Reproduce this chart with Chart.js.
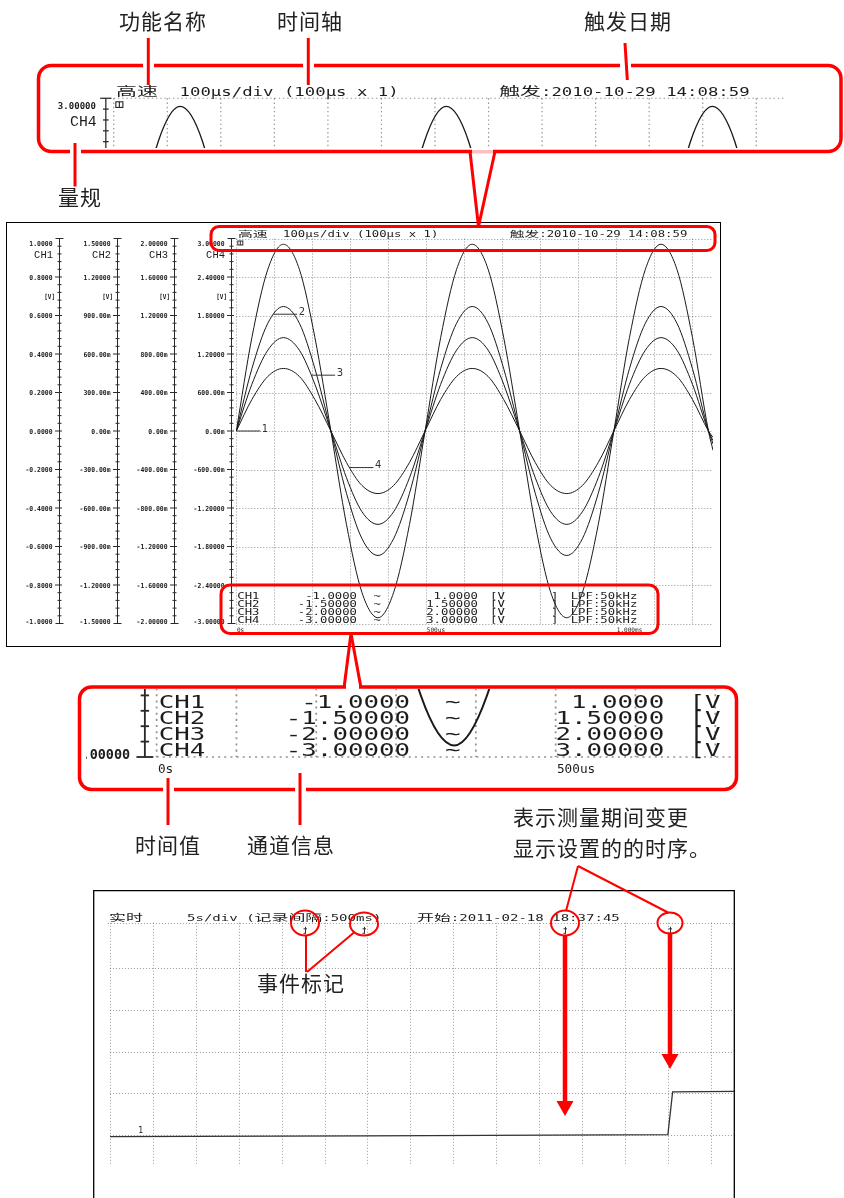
<!DOCTYPE html>
<html>
<head>
<meta charset="utf-8">
<script src="https://cdn.jsdelivr.net/npm/chart.js@4.4.1/dist/chart.umd.min.js"></script>
<style>
  html, body { margin: 0; padding: 0; background: #fff; }
  body { width: 844px; height: 1198px; position: relative; overflow: hidden; }
  canvas { display: block; }
  .abs { position: absolute; }
  .clip { position: absolute; overflow: hidden; }
  .note { position: absolute; font-family: "Noto Sans CJK SC", sans-serif; font-size: 21px; letter-spacing: 1px;
          line-height: 21px; color: #222; white-space: nowrap; }
</style>
</head>
<body>
<div class="abs" style="left:6px;top:222px;"><canvas id="scopeMain"></canvas></div>
<div class="clip" style="left:40px;top:67px;width:800px;height:81px;border-radius:11px;">
  <canvas id="scopeHead" class="abs"></canvas>
</div>
<div class="clip" style="left:86px;top:689px;width:649px;height:99px;border-radius:8px;">
  <canvas id="scopeFoot" class="abs"></canvas>
</div>
<div class="abs" style="left:93px;top:890px;"><canvas id="recorder"></canvas></div>
<canvas id="marks" class="abs" width="844" height="1198" style="left:0;top:0;pointer-events:none;"></canvas>

<div class="note" style="left:119px;top:10px;">功能名称</div>
<div class="note" style="left:277px;top:10px;">时间轴</div>
<div class="note" style="left:584px;top:10px;">触发日期</div>
<div class="note" style="left:58px;top:186px;">量规</div>
<div class="note" style="left:135px;top:834px;">时间值</div>
<div class="note" style="left:247px;top:834px;">通道信息</div>
<div class="note" style="left:513px;top:806px;">表示测量期间变更</div>
<div class="note" style="left:513px;top:837px;">显示设置的的时序。</div>
<div class="note" style="left:257px;top:972px;">事件标记</div>

<script>
// ---------- waveform screen (high-speed function) ----------
const timeUs = [0, 41, 83, 124, 166, 207, 249, 290, 331, 373, 414, 456, 497, 538, 580, 621,
                663, 704, 746, 787, 828, 870, 911, 953, 994, 1035, 1077, 1118, 1160, 1201, 1243, 1255];
const ch1V = [0, 0.485, 0.84, 0.97, 0.84, 0.485, 0, -0.485, -0.84, -0.97, -0.84, -0.485, 0, 0.485, 0.84, 0.97,
              0.84, 0.485, 0, -0.485, -0.84, -0.97, -0.84, -0.485, 0, 0.485, 0.84, 0.97, 0.84, 0.485, 0, -0.1];
const ch2V = [0, 0.485, 0.84, 0.97, 0.84, 0.485, 0, -0.485, -0.84, -0.97, -0.84, -0.485, 0, 0.485, 0.84, 0.97,
              0.84, 0.485, 0, -0.485, -0.84, -0.97, -0.84, -0.485, 0, 0.485, 0.84, 0.97, 0.84, 0.485, 0, -0.1];
const ch3V = [0, 0.485, 0.84, 0.97, 0.84, 0.485, 0, -0.485, -0.84, -0.97, -0.84, -0.485, 0, 0.485, 0.84, 0.97,
              0.84, 0.485, 0, -0.485, -0.84, -0.97, -0.84, -0.485, 0, 0.485, 0.84, 0.97, 0.84, 0.485, 0, -0.1];
const ch4V = [0, 0.49, 0.85, 0.975, 0.85, 0.49, 0, -0.49, -0.85, -0.975, -0.85, -0.49, 0, 0.49, 0.85, 0.975,
              0.85, 0.49, 0, -0.49, -0.85, -0.975, -0.85, -0.49, 0, 0.49, 0.85, 0.975, 0.85, 0.49, 0, -0.1];

const chNames = ['CH1', 'CH2', 'CH3', 'CH4'];
const chLow = [-1.0, -1.5, -2.0, -3.0];
const chHigh = [1.0, 1.5, 2.0, 3.0];
const chLowText = ['-1.0000', '-1.50000', '-2.00000', '-3.00000'];
const chHighText = ['1.0000', '1.50000', '2.00000', '3.00000'];
const chFilter = ['LPF:50kHz', 'LPF:50kHz', 'LPF:50kHz', 'LPF:50kHz'];
const ch1Ticks = ['1.0000', '0.8000', '0.6000', '0.4000', '0.2000', '0.0000', '-0.2000', '-0.4000', '-0.6000', '-0.8000', '-1.0000'];
const ch2Ticks = ['1.50000', '1.20000', '900.00m', '600.00m', '300.00m', '0.00m', '-300.00m', '-600.00m', '-900.00m', '-1.20000', '-1.50000'];
const ch3Ticks = ['2.00000', '1.60000', '1.20000', '800.00m', '400.00m', '0.00m', '-400.00m', '-800.00m', '-1.20000', '-1.60000', '-2.00000'];
const ch4Ticks = ['3.00000', '2.40000', '1.80000', '1.20000', '600.00m', '0.00m', '-600.00m', '-1.20000', '-1.80000', '-2.40000', '-3.00000'];
const timeTickUs = [0, 500, 1000];
const timeTickText = ['0s', '500us', '1.000ms'];
const tagText = ['1', '2', '3', '4'];
const tagTimeUs = [0, 97, 197, 298];
const tagValue = [0, 0.91, 0.58, -0.57];
const scopeMode = '高速';
const scopeTimebase = '100μs/div (100μs x 1)';
const scopeTrigger = '触发:2010-10-29 14:08:59';
const divUs = 100, spanUs = 1255, vDivs = 10;

// ---------- recorder screen (real-time function) ----------
const recTimeS = [0, 30, 65.0, 65.55, 72.7];
const recLevel = [-0.05, -0.03, 0.0, 1.03, 1.04];
const eventTimeS = [22.7, 29.6, 53.0, 65.3];
const recMode = '实时';
const recTimebase = '5s/div (记录间隔:500ms)';
const recStart = '开始:2011-02-18 18:37:45';
const recDivS = 5, recSpanS = 72.7, recLow = -0.755, recHigh = 5.1, recLines = [0, 1, 2, 3, 4];
const recTagText = '1', recTagTimeS = 3.6, recTagLevel = 0.05;

// ---------- drawing helpers ----------
const MONO = '"DejaVu Sans Mono", "Noto Sans CJK SC", monospace';
function isWide(c) { return /[\u2E80-\u9FFF\uF900-\uFAFF\uFF00-\uFF60]/.test(c); }
// fixed-cell text: every half-width glyph is stretched into one cell, CJK into two
function cellText(ctx, str, x, y, cell, px, align, family, weight) {
  const chars = Array.from(str);
  const units = chars.map(c => isWide(c) ? 2 : 1);
  const total = units.reduce((a, b) => a + b, 0) * cell;
  let cx = align === 'right' ? x - total : (align === 'center' ? x - total / 2 : x);
  ctx.font = (weight ? weight + ' ' : '') + px + 'px ' + (family || MONO);
  ctx.textAlign = 'center';
  ctx.textBaseline = 'middle';
  chars.forEach((c, i) => {
    const w = units[i] * cell;
    if (c !== ' ') {
      const mw = ctx.measureText(c).width || 1;
      ctx.save();
      ctx.translate(cx + w / 2, y);
      ctx.scale(w / mw, 1);
      ctx.fillText(c, 0, 0);
      ctx.restore();
    }
    cx += w;
  });
}
function seg(ctx, x1, y1, x2, y2) { ctx.beginPath(); ctx.moveTo(x1, y1); ctx.lineTo(x2, y2); ctx.stroke(); }

// panel geometry of the waveform screen at 1:1
const SCOPE_W = 715, SCOPE_H = 425;
const PAD = { left: 230.3, right: 8, top: 16.5, bottom: 23.5 };
const AXIS_X = [53, 111.3, 168, 224.7];
const tickSets = [ch1Ticks, ch2Ticks, ch3Ticks, ch4Ticks];

function scopeFace(mx, my, framed) {
  const s = (mx + my) / 2;
  return {
    id: 'scopeFace',
    beforeDatasetsDraw(chart) {
      const { ctx, chartArea: a, scales } = chart;
      ctx.save();
      ctx.strokeStyle = 'rgba(60,60,60,0.55)';
      ctx.lineWidth = Math.max(1, 0.85 * s);
      ctx.setLineDash([1 * s, 2 * s]);
      for (let t = 0; t <= spanUs; t += divUs) {
        let x = scales.x.getPixelForValue(t);
        if (mx === 1) x = Math.round(x) + 0.5;
        seg(ctx, x, a.top, x, a.bottom);
      }
      const y4 = scales.y4, step = (chHigh[3] - chLow[3]) / vDivs;
      for (let k = 0; k <= vDivs; k++) {
        let y = y4.getPixelForValue(chLow[3] + k * step);
        if (my === 1) y = Math.round(y) + 0.5;
        seg(ctx, a.left, y, a.right, y);
      }
      ctx.restore();
    },
    afterDatasetsDraw(chart) {
      const { ctx, chartArea: a, scales } = chart;
      ctx.save();
      ctx.fillStyle = '#1c1c1c';
      ctx.strokeStyle = '#2a2a2a';
      ctx.lineWidth = Math.max(1, 0.9 * s);
      // amplitude scales on the left
      chNames.forEach((name, i) => {
        const ys = scales['y' + (i + 1)];
        const ax = (mx === 1) ? Math.round(AXIS_X[i]) + 0.5 : AXIS_X[i] * mx;
        const top = ys.getPixelForValue(chHigh[i]), bot = ys.getPixelForValue(chLow[i]);
        const span = chHigh[i] - chLow[i];
        seg(ctx, ax, top, ax, bot);
        for (let k = 0; k <= vDivs * 5; k++) {
          const y = ys.getPixelForValue(chHigh[i] - k * span / (vDivs * 5));
          const major = k % 5 === 0;
          const edge = k === 0 || k === vDivs * 5;
          const l = (edge ? 4 : major ? 4.5 : 2) * mx, r = (edge ? 4 : major ? 2.5 : 2) * mx;
          seg(ctx, ax - l, y, ax + r, y);
        }
        const labels = tickSets[i];
        const yk = k => ys.getPixelForValue(chHigh[i] - k * span / vDivs);
        labels.forEach((txt, k) => {
          let y = yk(k) + 1 * my;
          if (k === 0) y = Math.max(y, top + 5.5 * my);
          if (k === vDivs) y = Math.min(y, bot - 0.8 * my);
          cellText(ctx, txt, ax - 7 * mx, y, 3.86 * mx, 6.8 * my, 'right', null, 'bold');
        });
        cellText(ctx, name, ax - 6.5 * mx, yk(0) + 0.44 * (yk(1) - yk(0)), 6.3 * mx, 10 * my, 'right', '"Liberation Mono", monospace');
        cellText(ctx, '[V]', ax - 4.5 * mx, yk(1) + 0.52 * (yk(2) - yk(1)), 3.6 * mx, 6.8 * my, 'right', null, 'bold');
      });
      // header line
      const hy = a.top - 3.5 * my;
      cellText(ctx, scopeMode, a.left + 1.7 * mx, hy, 7.4 * mx, 8.5 * my, 'left');
      cellText(ctx, scopeTimebase, a.left + 46.7 * mx, hy, 7.4 * mx, 8.5 * my, 'left');
      cellText(ctx, scopeTrigger, a.left + 273.4 * mx, hy, 7.4 * mx, 8.5 * my, 'left');
      // trigger mark
      ctx.lineWidth = Math.max(1, 0.8 * s);
      ctx.strokeRect(a.left + 1.5 * mx, a.top + 2.5 * my, 5 * mx, 4 * my);
      seg(ctx, a.left + 4 * mx, a.top + 2.5 * my, a.left + 4 * mx, a.top + 6.5 * my);
      // channel information rows
      chNames.forEach((name, i) => {
        const y = a.bottom - (26.5 - 8 * i) * my;
        const c = 7.4 * mx, p = 8.5 * my;
        cellText(ctx, name, a.left + 1 * mx, y, c, p, 'left');
        cellText(ctx, chLowText[i], a.left + 120.7 * mx, y, c, p, 'right');
        cellText(ctx, '~', a.left + 141 * mx, y, c, p, 'center');
        cellText(ctx, chHighText[i], a.left + 241.7 * mx, y, c, p, 'right');
        cellText(ctx, '[V', a.left + 253.7 * mx, y, c, p, 'left');
        cellText(ctx, ']', a.left + 314.7 * mx, y, c, p, 'left');
        cellText(ctx, chFilter[i], a.left + 334.4 * mx, y, c, p, 'left');
      });
      // time labels
      timeTickUs.forEach((t, j) => {
        cellText(ctx, timeTickText[j], scales.x.getPixelForValue(t) + 0.6 * mx, a.bottom + 6.5 * my, 3.65 * mx, 6.2 * my, 'left');
      });
      // curve number tags
      ctx.strokeStyle = '#333';
      ctx.lineWidth = Math.max(1, 0.8 * s);
      ctx.fillStyle = '#333';
      tagText.forEach((txt, i) => {
        const x0 = scales.x.getPixelForValue(tagTimeUs[i]);
        const y0 = scales['y' + (i + 1)].getPixelForValue(tagValue[i]);
        seg(ctx, x0, y0, x0 + 24 * mx, y0);
        ctx.font = (10 * my) + 'px "DejaVu Sans", sans-serif';
        ctx.textAlign = 'left';
        ctx.textBaseline = 'alphabetic';
        ctx.fillText(txt, x0 + 25.5 * mx, y0 + 0.5 * my);
      });
      if (framed) {
        ctx.strokeStyle = '#000';
        ctx.lineWidth = 1;
        ctx.setLineDash([]);
        ctx.strokeRect(0.5, 0.5, chart.width - 1, chart.height - 1);
      }
      ctx.restore();
    }
  };
}

function makeScope(canvas, mx, my, framed) {
  canvas.width = Math.round(SCOPE_W * mx);
  canvas.height = Math.round(SCOPE_H * my);
  canvas.style.width = canvas.width + 'px';
  canvas.style.height = canvas.height + 'px';
  const s = (mx + my) / 2;
  const series = [ch1V, ch2V, ch3V, ch4V];
  const datasets = series.map((vals, i) => ({
    data: timeUs.map((t, k) => ({ x: t, y: vals[k] })),
    yAxisID: 'y' + (i + 1),
    borderColor: '#1a1a1a',
    borderWidth: Math.max(1, 0.95 * s),
    pointRadius: 0,
    fill: false,
    cubicInterpolationMode: 'monotone'
  }));
  const scales = { x: { type: 'linear', min: 0, max: spanUs, display: false } };
  chLow.forEach((lo, i) => { scales['y' + (i + 1)] = { type: 'linear', min: lo, max: chHigh[i], display: false }; });
  return new Chart(canvas, {
    type: 'line',
    data: { datasets },
    options: {
      responsive: false, animation: false, events: [], devicePixelRatio: 1,
      layout: { padding: { left: PAD.left * mx, right: PAD.right * mx, top: PAD.top * my, bottom: PAD.bottom * my } },
      scales,
      plugins: { legend: { display: false }, tooltip: { enabled: false } }
    },
    plugins: [scopeFace(mx, my, framed)]
  });
}

// main screen, magnified header strip, magnified channel strip
makeScope(document.getElementById('scopeMain'), 1, 1, true);
const head = document.getElementById('scopeHead');
head.style.left = (-211.4 - 40) + 'px'; head.style.top = (75 - 67) + 'px';
makeScope(head, 1.41, 1.41, false);
const foot = document.getElementById('scopeFoot');
foot.style.left = (-326.6 - 86) + 'px'; foot.style.top = (-46.4 - 689) + 'px';
makeScope(foot, 2.1, 2.0, false);

// ---------- recorder chart ----------
(function () {
  const canvas = document.getElementById('recorder');
  canvas.width = 642; canvas.height = 308;
  canvas.style.width = '642px'; canvas.style.height = '308px';
  const face = {
    id: 'recFace',
    beforeDatasetsDraw(chart) {
      const { ctx, chartArea: a, scales } = chart;
      ctx.save();
      ctx.strokeStyle = 'rgba(60,60,60,0.5)';
      ctx.lineWidth = 1;
      ctx.setLineDash([1, 2]);
      for (let t = 0; t <= recSpanS; t += recDivS) {
        const x = Math.round(scales.x.getPixelForValue(t)) + 0.5;
        seg(ctx, x, a.top, x, a.bottom);
      }
      recLines.forEach(v => {
        const y = Math.round(scales.y.getPixelForValue(v)) + 0.5;
        seg(ctx, a.left, y, a.right, y);
      });
      const hy = Math.round(a.top) + 0.5;
      seg(ctx, a.left - 2, hy, a.right, hy);
      ctx.restore();
    },
    afterDatasetsDraw(chart) {
      const { ctx, chartArea: a, scales } = chart;
      ctx.save();
      ctx.fillStyle = '#1c1c1c';
      const hy = a.top - 4;
      cellText(ctx, recMode, 109 - 93, hy, 8.45, 9.5, 'left');
      cellText(ctx, recTimebase, 187 - 93, hy, 8.45, 9.5, 'left');
      cellText(ctx, recStart, 417 - 93, hy, 8.45, 9.5, 'left');
      // event marks below the header
      ctx.strokeStyle = '#333';
      ctx.lineWidth = 1;
      eventTimeS.forEach(t => {
        const x = Math.round(scales.x.getPixelForValue(t)) + 0.5;
        seg(ctx, x, a.top + 4, x, a.top + 11);
        seg(ctx, x - 2, a.top + 6, x + 1.5, a.top + 6);
        seg(ctx, x - 2, a.top + 10.5, x, a.top + 10.5);
      });
      // trace number
      ctx.font = '8px "DejaVu Sans", sans-serif';
      ctx.textAlign = 'center';
      ctx.textBaseline = 'alphabetic';
      ctx.fillText(recTagText, scales.x.getPixelForValue(recTagTimeS), scales.y.getPixelForValue(recTagLevel));
      // frame
      ctx.strokeStyle = '#000';
      ctx.lineWidth = 1.3;
      ctx.beginPath();
      ctx.moveTo(0.7, chart.height);
      ctx.lineTo(0.7, 0.7);
      ctx.lineTo(chart.width - 0.7, 0.7);
      ctx.lineTo(chart.width - 0.7, chart.height);
      ctx.stroke();
      ctx.restore();
    }
  };
  new Chart(canvas, {
    type: 'line',
    data: { datasets: [{
      data: recTimeS.map((t, k) => ({ x: t, y: recLevel[k] })),
      borderColor: '#333', borderWidth: 1.3, pointRadius: 0, tension: 0, fill: false
    }] },
    options: {
      responsive: false, animation: false, events: [], devicePixelRatio: 1,
      layout: { padding: { left: 16.9, right: 1, top: 32.8, bottom: 32 } },
      scales: {
        x: { type: 'linear', min: 0, max: recSpanS, display: false },
        y: { type: 'linear', min: recLow, max: recHigh, display: false }
      },
      plugins: { legend: { display: false }, tooltip: { enabled: false } }
    },
    plugins: [face]
  });
})();

// ---------- red call-outs ----------
(function () {
  const ctx = document.getElementById('marks').getContext('2d');
  const RED = '#ff0000';
  ctx.strokeStyle = RED;
  ctx.fillStyle = RED;
  ctx.lineCap = 'butt';
  function box(x, y, w, h, r, lw) {
    ctx.lineWidth = lw;
    ctx.beginPath();
    ctx.moveTo(x + r, y);
    ctx.arcTo(x + w, y, x + w, y + h, r);
    ctx.arcTo(x + w, y + h, x, y + h, r);
    ctx.arcTo(x, y + h, x, y, r);
    ctx.arcTo(x, y, x + w, y, r);
    ctx.closePath();
    ctx.stroke();
  }
  function ln(x1, y1, x2, y2, lw) { ctx.lineWidth = lw; seg(ctx, x1, y1, x2, y2); }
  function gap(x, y, w, h) { ctx.clearRect(x, y, w, h); }
  function arrowDown(x, y0, tip) {
    ctx.lineWidth = 4.5;
    seg(ctx, x, y0, x, tip - 13);
    ctx.beginPath();
    ctx.moveTo(x - 8.5, tip - 15);
    ctx.lineTo(x + 8.5, tip - 15);
    ctx.lineTo(x, tip);
    ctx.closePath();
    ctx.fill();
  }

  // magnified header strip
  box(38.5, 65.5, 802.5, 86, 13, 3.5);
  gap(143, 62, 11, 7); ln(148.3, 38, 148.3, 85, 3);
  gap(303, 62, 11, 7); ln(308.3, 38, 308.3, 85, 3);
  gap(620, 62, 11, 7); ln(625, 43, 627.3, 80, 3);
  gap(69.5, 148, 11, 7); ln(75, 143, 75, 186.5, 3);
  // header of the main screen and the wedge joining it
  box(211, 226.5, 504, 24, 8, 3);
  gap(472, 148, 21, 7);
  ctx.fillStyle = 'rgba(255,0,0,0.25)'; ctx.fillRect(472, 150, 21, 3.5); ctx.fillStyle = RED;
  ln(470, 151.5, 478.5, 226.5, 3);
  ln(495, 151.5, 478.5, 226.5, 3);
  // channel information of the main screen and the wedge to the strip
  box(221, 585, 437, 48.5, 9, 3);
  box(79.5, 687, 657, 102.5, 12, 3.5);
  gap(346, 684, 13, 7);
  ln(351, 633.5, 344, 688, 3);
  ln(351, 633.5, 361, 688, 3);
  gap(162.5, 786, 11, 7); ln(168, 778, 168, 825, 3);
  gap(294.5, 786, 11, 7); ln(300, 773, 300, 825, 3);

  // event marks on the recorder screen
  ctx.lineWidth = 2;
  [[305, 923, 14, 12.5], [364, 924, 14, 11.5], [565, 923, 14, 12.5], [670, 923, 12.5, 10.5]].forEach(e => {
    ctx.beginPath(); ctx.ellipse(e[0], e[1], e[2], e[3], 0, 0, Math.PI * 2); ctx.stroke();
  });
  ln(306, 935.5, 306, 972, 2);
  ln(354, 932.5, 307, 972, 2);
  ln(578, 866, 566, 911, 2);
  ln(578, 866, 668, 912.5, 2);
  arrowDown(565, 936, 1116);
  arrowDown(670, 934, 1069);
})();
</script>
</body>
</html>
